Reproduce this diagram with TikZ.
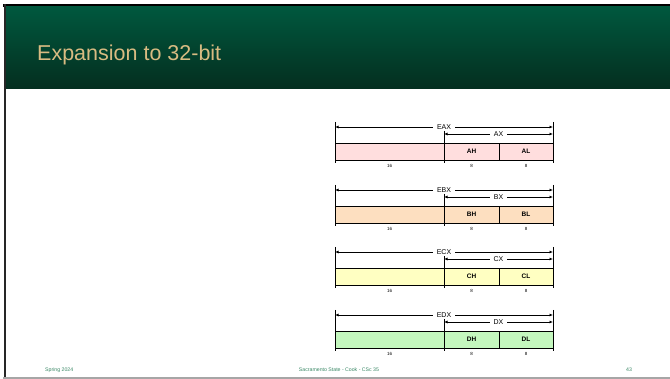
\documentclass[tikz,border=0pt]{standalone}
\usepackage{fontspec}
\setmainfont{Liberation Sans}
\usetikzlibrary{arrows.meta,positioning}
\definecolor{slidetop}{HTML}{00583E}
\definecolor{slidebot}{HTML}{042E1F}
\definecolor{titletan}{HTML}{D8BB82}
\definecolor{footgreen}{HTML}{3A8866}
\definecolor{lightpink}{HTML}{FFDEDE}
\definecolor{lightpeach}{HTML}{FDDFC0}
\definecolor{lightyellow}{HTML}{FFFFC2}
\definecolor{lightgreen}{HTML}{C4F7BE}
\tikzset{
  cell/.style={draw=black, line width=0.7pt, minimum height=17pt, inner sep=0pt, outer sep=0pt, font=\fontsize{6.5}{7}\selectfont\bfseries},
  dim/.style={{Latex[length=3.5pt,width=3pt]}-{Latex[length=3.5pt,width=3pt]}, line width=0.7pt, draw=black},
  tick/.style={line width=0.7pt, draw=black},
  regname/.style={fill=white, inner xsep=4pt, inner ysep=1pt, font=\fontsize{7}{8}\selectfont},
  bitcount/.style={inner sep=0pt, font=\fontsize{4.5}{5}\selectfont},
  footer/.style={text=footgreen, inner sep=0pt, font=\fontsize{5.2}{6}\selectfont}
}
\begin{document}
\begin{tikzpicture}[x=1pt, y=-1pt]
\useasboundingbox (0,0) rectangle (670,379);
% slide frame and title bar
\fill[black] (3,4) rectangle (670,7);
\fill[black!85] (3.5,4) rectangle (6,377);
\fill[gray!70] (3,377) rectangle (670,379);
\shade[top color=slidetop, bottom color=slidebot] (6,7) rectangle (670,89);
\node[anchor=base west, text=titletan, inner sep=0pt, font=\fontsize{21.5}{24}\selectfont] (title) at (37,61) {Expansion to 32-bit};
% registers
\foreach \reg/\regcol/\regy in {A/lightpink/143, B/lightpeach/206, C/lightyellow/268, D/lightgreen/331} {
  \node[cell, fill=\regcol, minimum width=109pt, anchor=north west] (hi\reg) at (335,\regy) {};
  \node[cell, fill=\regcol, minimum width=55pt, right=0pt of hi\reg] (h\reg) {\reg H};
  \node[cell, fill=\regcol, minimum width=54pt, right=0pt of h\reg] (l\reg) {\reg L};
  \draw[tick] ([yshift=21pt]hi\reg.north west) -- ([yshift=-3pt]hi\reg.south west);
  \draw[tick] ([yshift=12pt]h\reg.north west) -- ([yshift=-3pt]h\reg.south west);
  \draw[tick] ([yshift=21pt]l\reg.north east) -- ([yshift=-3pt]l\reg.south east);
  \draw[dim] ([yshift=16pt]hi\reg.north west) -- ([yshift=16pt]l\reg.north east)
    node[regname, midway] (e\reg x) {E\reg X};
  \draw[dim] ([yshift=9pt]h\reg.north west) -- ([yshift=9pt]l\reg.north east)
    node[regname, midway] (\reg x) {\reg X};
  \node[bitcount, below=4pt of hi\reg] (n16\reg) {16};
  \node[bitcount, below=4pt of h\reg] (nh\reg) {8};
  \node[bitcount, below=4pt of l\reg] (nl\reg) {8};
}
% footer
\node[footer, anchor=west] (term) at (45,370) {Spring 2024};
\node[footer] (course) at (339,370) {Sacramento State - Cook - CSc 35};
\node[footer] (page) at (629,370) {43};
\end{tikzpicture}
\end{document}
